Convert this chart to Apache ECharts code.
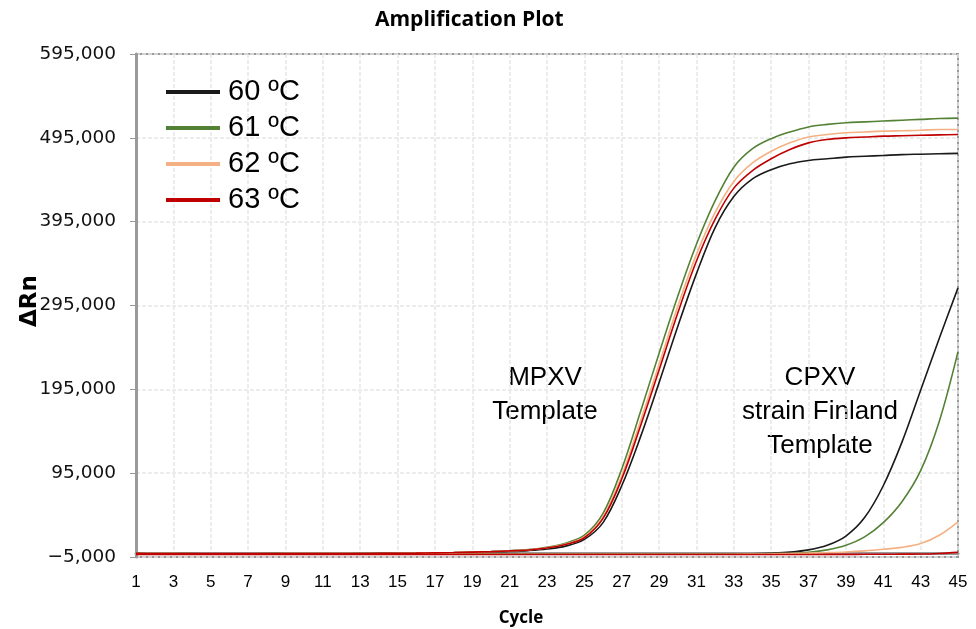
<!DOCTYPE html>
<html>
<head>
<meta charset="utf-8">
<script src="https://cdn.jsdelivr.net/npm/echarts@6/dist/echarts.min.js"></script>
<style>
html,body{margin:0;padding:0;background:#fff;}
#chart{width:976px;height:629px;}
</style>
</head>
<body>
<div id="chart"></div>
<script>
// ---- data ----
const cycles = ['1','2','3','4','5','6','7','8','9','10','11','12','13','14','15','16','17','18','19','20','21','22','23','24','25','26','27','28','29','30','31','32','33','34','35','36','37','38','39','40','41','42','43','44','45'];
const seriesNames = ['60 ºC', '61 ºC', '62 ºC', '63 ºC'];

// MPXV template curves (ΔRn per cycle)
const mpxv60 = [-1000,-1200,-1200,-1300,-1300,-1300,-1200,-1200,-1200,-1200,-1100,-1100,-1000,-1000,-900,-800,-600,-300,300,800,1500,2600,4500,8000,16000,36000,80000,138000,203000,270000,333000,388000,425000,446000,457000,464000,468000,470000,472000,473000,474000,475000,475500,476000,476500];
const mpxv61 = [-800,-900,-1000,-1000,-1100,-1100,-1100,-1000,-1000,-1000,-900,-900,-800,-700,-600,-400,-100,300,900,1500,2400,3800,6500,11500,21000,47000,100000,168000,238000,306000,368000,420000,460000,482000,494000,502000,508000,511000,513000,514000,515000,516000,517000,518000,518500];
const mpxv62 = [-900,-1000,-1000,-1100,-1100,-1200,-1100,-1100,-1000,-1000,-1000,-900,-900,-800,-700,-500,-200,200,700,1300,2200,3500,6000,10500,19000,43000,92000,157000,225000,294000,356000,406000,443000,465000,479000,489000,496000,499000,501000,502000,503000,503500,504000,505000,505000];
const mpxv63 = [-700,-800,-900,-900,-1000,-1000,-900,-800,-900,-900,-900,-800,-800,-700,-600,-400,-100,300,800,1400,2300,3400,5800,10000,18000,41000,88000,151000,218000,286000,348000,398000,435000,456000,470000,481000,489000,493000,495000,496000,497000,497500,498000,498500,499000];

// CPXV strain Finland template curves
const cpxv60 = [-1500,-1500,-1500,-1500,-1500,-1500,-1500,-1500,-1500,-1500,-1500,-1500,-1500,-1500,-1500,-1500,-1500,-1500,-1500,-1500,-1500,-1500,-1500,-1500,-1500,-1500,-1500,-1500,-1500,-1500,-1500,-1400,-1400,-1200,-500,800,3500,9000,20000,42000,80000,132000,194000,256000,316000];
const cpxv61 = [-1600,-1600,-1600,-1600,-1600,-1600,-1600,-1600,-1600,-1600,-1600,-1600,-1600,-1600,-1600,-1600,-1600,-1600,-1600,-1600,-1600,-1600,-1600,-1600,-1600,-1600,-1600,-1600,-1600,-1600,-1600,-1500,-1500,-1300,-1000,-800,500,3500,9000,19000,36000,61000,98000,157000,240000];
const cpxv62 = [-1800,-1800,-1800,-1800,-1800,-1800,-1800,-1800,-1800,-1800,-1800,-1800,-1800,-1800,-1800,-1800,-1800,-1800,-1800,-1800,-1800,-1800,-1800,-1800,-1800,-1800,-1800,-1800,-1800,-1800,-1800,-1800,-1800,-1500,-1200,-800,-400,200,1000,2300,4200,6500,11000,21000,37000];
const cpxv63 = [-2000,-2000,-2000,-2000,-2000,-2000,-2000,-2000,-2000,-2000,-2000,-2000,-2000,-2000,-2000,-2000,-2000,-2000,-2000,-2000,-2000,-2000,-2000,-2000,-2000,-2000,-2000,-2000,-2000,-2000,-2000,-2000,-2000,-2000,-2000,-2000,-2000,-1900,-1900,-1800,-1700,-1600,-1500,-800,500];

const yMin = -5000, yMax = 595000, yStep = 100000;
const titleText = 'Amplification Plot';
const xName = 'Cycle';
const yName = 'ΔRn';
const annotMPXV = 'MPXV\nTemplate';
const annotCPXV = 'CPXV\nstrain Finland\nTemplate';

// ---- chart ----
const colors = ['#1a1a1a', '#548235', '#f4b183', '#c00000'];
const mpxv = [mpxv60, mpxv61, mpxv62, mpxv63];
const cpxv = [cpxv60, cpxv61, cpxv62, cpxv63];

const series = [];
[mpxv, cpxv].forEach(function (group) {
  for (let i = 0; i < 4; i++) {
    series.push({
      name: seriesNames[i], type: 'line', data: group[i], showSymbol: false, symbol: 'none',
      smooth: 0.35, lineStyle: { color: colors[i], width: 1.6 }, itemStyle: { color: colors[i] }, z: 2 + i, silent: true
    });
  }
});

function fmt(v) {
  const s = Math.abs(v).toLocaleString('en-US');
  return v < 0 ? '\u2212' + s : s;
}

const chart = echarts.init(document.getElementById('chart'), null, { renderer: 'canvas' });
chart.setOption({
  backgroundColor: '#ffffff',
  animation: false,
  title: {
    text: titleText, left: 375, top: 10, padding: 0,
    textStyle: { fontFamily: 'Open Sans', fontWeight: 'bold', fontSize: 21, color: '#000' }
  },
  legend: {
    show: true, orient: 'vertical', left: 166, top: 77, padding: 0, itemWidth: 54, itemHeight: 4, itemGap: 6,
    icon: 'rect', data: seriesNames,
    textStyle: { fontFamily: 'Liberation Sans', fontSize: 29, color: '#000', lineHeight: 30, padding: [0, 0, 0, 3] }
  },
  grid: { left: 136, right: 18, top: 54, bottom: 72, show: true, borderColor: '#9a9a9a', borderWidth: 2 },
  xAxis: {
    type: 'category', data: cycles, boundaryGap: false,
    axisLine: { lineStyle: { color: '#9a9a9a', width: 3 } },
    axisTick: { show: false },
    axisLabel: { interval: 1, margin: 17, fontFamily: 'Liberation Sans', fontSize: 17, color: '#000' },
    splitLine: { show: true, interval: 1, lineStyle: { color: '#e6e6e6', type: [4, 2], width: 1.5 } }
  },
  yAxis: {
    type: 'value', min: yMin, max: yMax, interval: yStep,
    axisLine: { show: true, lineStyle: { color: '#9a9a9a', width: 3 } },
    axisTick: { show: true, length: 6, lineStyle: { color: '#9a9a9a' } },
    axisLabel: { margin: 20, fontFamily: 'DejaVu Sans', fontSize: 18.5, color: '#111', formatter: fmt },
    splitLine: { show: true, lineStyle: { color: '#e6e6e6', type: [4, 2], width: 1.5 } }
  },
  graphic: [
    { type: 'text', silent: true, x: 521, y: 618,
      style: { text: xName, fontFamily: 'Open Sans', fontWeight: 'bold', fontSize: 17, fill: '#000', align: 'center', verticalAlign: 'middle' } },
    { type: 'text', silent: true, x: 30, y: 301, rotation: Math.PI / 2,
      style: { text: yName, fontFamily: 'DejaVu Sans', fontWeight: 'bold', fontSize: 23, fill: '#000', align: 'center', verticalAlign: 'middle' } },
    { type: 'text', silent: true, x: 545, y: 395,
      style: { text: annotMPXV, fontFamily: 'Liberation Sans', fontSize: 26, lineHeight: 34, fill: '#000', align: 'center', verticalAlign: 'middle' } },
    { type: 'text', silent: true, x: 820, y: 412,
      style: { text: annotCPXV, fontFamily: 'Liberation Sans', fontSize: 26, lineHeight: 34, fill: '#000', align: 'center', verticalAlign: 'middle' } }
  ],
  series: series
});
</script>
</body>
</html>
